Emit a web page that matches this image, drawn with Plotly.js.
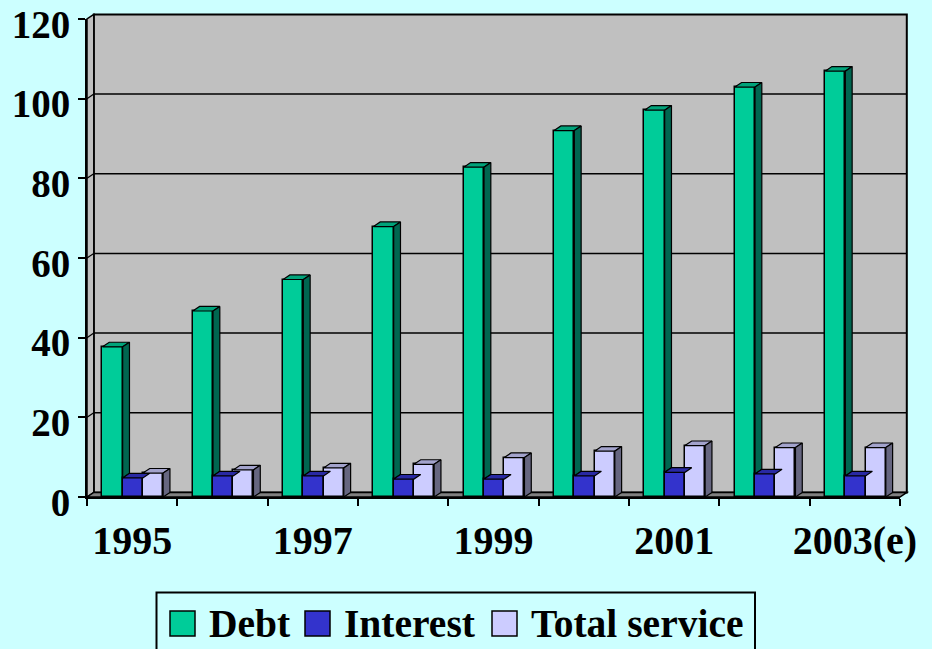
<!DOCTYPE html>
<html><head><meta charset="utf-8">
<script src="https://cdn.plot.ly/plotly-3.0.1.min.js"></script>
<style>html,body{margin:0;padding:0;background:#CCFFFF;} #chart{width:932px;height:649px;}</style>
</head><body><div id="chart"></div><script>
// ---- data ----
const categories = ['1995','1996','1997','1998','1999','2000','2001','2002','2003(e)'];
const tickLabels = ['1995','','1997','','1999','','2001','','2003(e)'];
const seriesNames = ['Debt','Interest','Total service'];
const debt = [37.7, 46.7, 54.6, 67.9, 82.8, 92.0, 97.1, 102.9, 106.9];
const interest = [4.8, 5.3, 5.3, 4.5, 4.5, 5.3, 6.2, 5.8, 5.3];
const totalService = [6.0, 6.8, 7.3, 8.2, 9.9, 11.5, 12.9, 12.4, 12.4];
const yTicks = [0, 20, 40, 60, 80, 100, 120];

// ---- layout constants ----
const W = 932, H = 649, M = {l: 87, r: 32, t: 19, b: 152};
const plotW = W - M.l - M.r, plotH = H - M.t - M.b;
const Y_MAX = 120, X_MIN = -0.5, X_MAX = categories.length - 0.5;
const colors = [
  {front: '#00CC99', top: '#00A37A', side: '#006650'},
  {front: '#3333CC', top: '#2929A3', side: '#1A1A66'},
  {front: '#CCCCFF', top: '#A3A3CC', side: '#666680'}
];
const barW = 0.224, startOff = -0.329;
const depthPx = {x: 6.8, y: 4.6};
const dx = depthPx.x * (X_MAX - X_MIN) / plotW;
const dy = depthPx.y * Y_MAX / plotH;
const dxp = depthPx.x / plotW, dyp = depthPx.y / plotH;
const seriesVals = [debt, interest, totalService];
const xIdx = categories.map((c, i) => i);
const px2x = px => (px - M.l) / plotW;
const px2y = py => (H - M.b - py) / plotH;
const serif = 'Liberation Serif, Times New Roman, serif';

const traces = [];
seriesVals.forEach((vals, s) => {
  traces.push({
    type: 'bar', x: xIdx, y: vals, offset: startOff + s * barW, width: barW,
    name: seriesNames[s], customdata: categories,
    marker: {color: colors[s].front, line: {color: '#000', width: 1.5}},
    hovertemplate: '%{customdata}: %{y}<extra>' + seriesNames[s] + '</extra>',
    showlegend: false
  });
});
seriesVals.forEach((vals, s) => {
  const tx = [], ty = [], sx = [], sy = [];
  vals.forEach((v, i) => {
    const x0 = i + startOff + s * barW, x1 = x0 + barW;
    tx.push(x0, x0 + dx, x1 + dx, x1, x0, null);
    ty.push(v, v + dy, v + dy, v, v, null);
    const next = s < seriesVals.length - 1 ? seriesVals[s + 1][i] : 0;
    if (next < v) {
      const lo = Math.max(0, next);
      sx.push(x1, x1 + dx, x1 + dx, x1, x1, null);
      sy.push(lo, lo + dy, v + dy, v, lo, null);
    }
  });
  traces.push({type: 'scatter', mode: 'lines', x: tx, y: ty, fill: 'toself',
    fillcolor: colors[s].top, line: {color: '#000', width: 1.2}, showlegend: false, hoverinfo: 'skip'});
  if (sx.length) traces.push({type: 'scatter', mode: 'lines', x: sx, y: sy, fill: 'toself',
    fillcolor: colors[s].side, line: {color: '#000', width: 1.2}, showlegend: false, hoverinfo: 'skip'});
});

// ---- walls, floor, gridlines ----
const shapes = [
  {type: 'rect', xref: 'paper', yref: 'paper', x0: dxp, x1: 1 + dxp, y0: dyp, y1: 1 + dyp,
   fillcolor: '#C0C0C0', line: {color: '#000', width: 2}, layer: 'below'},
  {type: 'path', xref: 'paper', yref: 'paper', path: `M0,0 L${dxp},${dyp} L${dxp},${1 + dyp} L0,1 Z`,
   fillcolor: '#C0C0C0', line: {color: '#000', width: 1.5}, layer: 'below'},
  {type: 'path', xref: 'paper', yref: 'paper', path: `M0,0 L${dxp},${dyp} L${1 + dxp},${dyp} L1,0 Z`,
   fillcolor: '#808080', line: {color: '#000', width: 1.5}, layer: 'below'}
];
yTicks.forEach(t => {
  if (t <= 0 || t >= Y_MAX) return;
  const yp = t / Y_MAX;
  shapes.push({type: 'line', xref: 'paper', yref: 'paper', x0: dxp, x1: 1 + dxp, y0: yp + dyp, y1: yp + dyp,
    line: {color: '#000', width: 1.5}, layer: 'below'});
  shapes.push({type: 'line', xref: 'paper', yref: 'paper', x0: 0, x1: dxp, y0: yp, y1: yp + dyp,
    line: {color: '#000', width: 1.2}, layer: 'below'});
});

// ---- custom legend ----
const annotations = [];
shapes.push({type: 'rect', xref: 'paper', yref: 'paper', x0: px2x(156.5), x1: px2x(755), y0: px2y(660), y1: px2y(592.5),
  fillcolor: 'rgba(0,0,0,0)', line: {color: '#000', width: 2}});
const legSwatchX = [170, 305, 492], legTextX = [207, 342, 529];
seriesNames.forEach((n, s) => {
  shapes.push({type: 'rect', xref: 'paper', yref: 'paper', x0: px2x(legSwatchX[s]), x1: px2x(legSwatchX[s] + 25),
    y0: px2y(636), y1: px2y(611), fillcolor: colors[s].front, line: {color: '#000', width: 1.5}});
  annotations.push({xref: 'paper', yref: 'paper', x: px2x(legTextX[s]), y: px2y(623.5), xanchor: 'left', yanchor: 'middle',
    text: n, showarrow: false, font: {family: serif, size: 39.5, color: '#000', weight: 'bold'}});
});

const layout = {
  width: W, height: H, margin: M,
  paper_bgcolor: '#CCFFFF', plot_bgcolor: 'rgba(0,0,0,0)',
  showlegend: false, barmode: 'overlay', bargap: 0,
  xaxis: {type: 'linear', range: [X_MIN, X_MAX], autorange: false, tickmode: 'array', tickvals: xIdx, ticktext: tickLabels,
    ticks: '', showgrid: false, zeroline: false, showline: true, linecolor: '#000', linewidth: 2,
    ticklabelstandoff: 7, ticklabeloverflow: 'allow',
    minor: {tickmode: 'linear', tick0: X_MIN, dtick: 1, ticks: 'outside', ticklen: 7, tickwidth: 1.5, tickcolor: '#000', showgrid: false},
    tickfont: {family: serif, size: 40, color: '#000', weight: 'bold'}, fixedrange: true},
  yaxis: {range: [0, Y_MAX], autorange: false, tickmode: 'array', tickvals: yTicks,
    ticks: 'outside', ticklen: 7, tickwidth: 1.5, tickcolor: '#000', ticklabeloverflow: 'allow',
    ticklabelshift: 5,
    showgrid: false, zeroline: false, showline: true, linecolor: '#000', linewidth: 2,
    tickfont: {family: serif, size: 39, color: '#000', weight: 'bold'}, fixedrange: true},
  shapes: shapes, annotations: annotations
};
Plotly.newPlot('chart', traces, layout, {displayModeBar: false});
</script></body></html>
